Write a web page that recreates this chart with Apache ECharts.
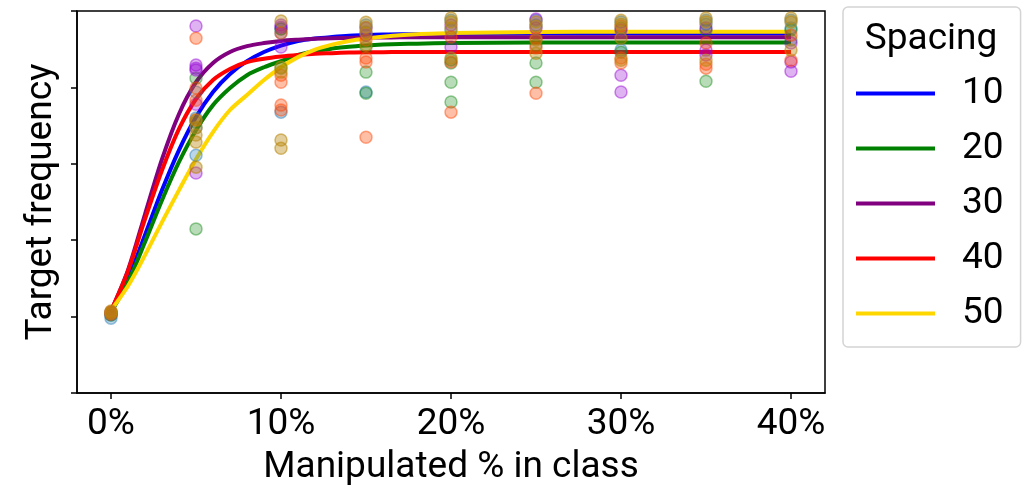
<!DOCTYPE html>
<html>
<head>
<meta charset="utf-8">
<script src="https://cdn.jsdelivr.net/npm/echarts@6/dist/echarts.min.js"></script>
<style>html,body{margin:0;padding:0;background:#fff;}#c{width:1030px;height:491px;}</style>
</head>
<body>
<div id="c"></div>
<script>
// ---- data ----
const spacingNames = ['10', '20', '30', '40', '50'];
const xTickValues = [0, 10, 20, 30, 40];
const yTickValues = [-0.25, 0, 0.25, 0.5, 0.75, 1.0];

// fitted curves
const curveX = [0, 1, 2, 3, 4, 5, 6, 7, 8, 9, 10, 11, 12, 13, 14, 15, 16, 17, 18, 20, 25, 30, 40];
const curve10 = [0.015, 0.123, 0.267, 0.414, 0.545, 0.653, 0.735, 0.794, 0.836, 0.866, 0.887, 0.902, 0.910, 0.915, 0.919, 0.921, 0.923, 0.924, 0.924, 0.925, 0.926, 0.926, 0.926];
const curve20 = [0.015, 0.113, 0.244, 0.381, 0.506, 0.610, 0.692, 0.748, 0.790, 0.816, 0.836, 0.856, 0.869, 0.877, 0.883, 0.887, 0.890, 0.892, 0.893, 0.895, 0.897, 0.897, 0.897];
const curve30 = [0.018, 0.152, 0.335, 0.515, 0.663, 0.767, 0.830, 0.866, 0.885, 0.895, 0.902, 0.906, 0.909, 0.911, 0.912, 0.913, 0.913, 0.914, 0.914, 0.914, 0.914, 0.914, 0.914];
const curve40 = [0.018, 0.149, 0.319, 0.479, 0.614, 0.712, 0.774, 0.810, 0.833, 0.844, 0.851, 0.856, 0.860, 0.862, 0.864, 0.865, 0.865, 0.866, 0.866, 0.866, 0.866, 0.866, 0.866];
const curve50 = [0.021, 0.100, 0.201, 0.309, 0.414, 0.515, 0.604, 0.676, 0.725, 0.774, 0.816, 0.849, 0.874, 0.890, 0.902, 0.910, 0.916, 0.921, 0.924, 0.928, 0.931, 0.932, 0.932];

// observed points [x %, value]
const points10 = [
  [0, -0.005], [0, 0.005],
  [5, 0.735], [5, 0.650], [5, 0.618], [5, 0.528],
  [10, 0.941], [10, 0.928], [10, 0.669],
  [15, 0.954], [15, 0.931], [15, 0.735],
  [20, 0.970], [20, 0.938],
  [25, 0.970], [25, 0.954],
  [30, 0.964], [30, 0.872],
  [35, 0.970], [35, 0.957],
  [40, 0.970], [40, 0.944]
];
const points20 = [
  [0, 0.005], [0, 0.012],
  [5, 0.780], [5, 0.636], [5, 0.287],
  [10, 0.941], [10, 0.813],
  [15, 0.882], [15, 0.800], [15, 0.731],
  [20, 0.840], [20, 0.830], [20, 0.767], [20, 0.702],
  [25, 0.889], [25, 0.830], [25, 0.767],
  [30, 0.944], [30, 0.865],
  [35, 0.938], [35, 0.770],
  [40, 0.938], [40, 0.905]
];
const points30 = [
  [0, 0.008], [0, 0.014],
  [5, 0.951], [5, 0.823], [5, 0.813], [5, 0.807], [5, 0.695], [5, 0.470],
  [10, 0.954], [10, 0.947], [10, 0.882],
  [15, 0.944], [15, 0.921],
  [20, 0.954], [20, 0.882],
  [25, 0.974], [25, 0.944],
  [30, 0.938], [30, 0.790], [30, 0.735],
  [35, 0.944], [35, 0.872], [35, 0.856],
  [40, 0.895], [40, 0.833], [40, 0.803]
];
const points40 = [
  [0, 0.010], [0, 0.016],
  [5, 0.911], [5, 0.748], [5, 0.708], [5, 0.643],
  [10, 0.928], [10, 0.790], [10, 0.767], [10, 0.692], [10, 0.676],
  [15, 0.905], [15, 0.846], [15, 0.833], [15, 0.587],
  [20, 0.915], [20, 0.833], [20, 0.669],
  [25, 0.911], [25, 0.879], [25, 0.731],
  [30, 0.951], [30, 0.846], [30, 0.830],
  [35, 0.895], [35, 0.826], [35, 0.813],
  [40, 0.921], [40, 0.839]
];
const points50 = [
  [0, 0.008], [0, 0.013], [0, 0.018],
  [5, 0.643], [5, 0.618], [5, 0.594], [5, 0.571], [5, 0.489],
  [10, 0.967], [10, 0.816], [10, 0.800], [10, 0.578], [10, 0.551],
  [15, 0.963], [15, 0.947], [15, 0.928], [15, 0.889],
  [20, 0.977], [20, 0.964], [20, 0.944], [20, 0.846],
  [25, 0.964], [25, 0.950], [25, 0.905], [25, 0.862],
  [30, 0.970], [30, 0.957], [30, 0.911], [30, 0.839],
  [35, 0.977], [35, 0.964], [35, 0.839],
  [40, 0.977], [40, 0.964], [40, 0.872]
];

// ---- styling ----
const lineColors = ['#0000ff', '#008000', '#800080', '#ff0000', '#ffd700'];
const pointFill = ['rgba(31,119,180,0.30)', 'rgba(0,128,0,0.28)', 'rgba(148,0,211,0.30)', 'rgba(255,69,0,0.35)', 'rgba(184,134,11,0.40)'];
const pointEdge = ['rgba(31,119,180,0.45)', 'rgba(0,128,0,0.40)', 'rgba(148,0,211,0.45)', 'rgba(255,69,0,0.45)', 'rgba(184,134,11,0.55)'];
const curves = [curve10, curve20, curve30, curve40, curve50];
const pointSets = [points10, points20, points30, points40, points50];
const FONT = 'Roboto, "DejaVu Sans", sans-serif';
const FS = 37;

const series = [];
curves.forEach((c, i) => {
  series.push({
    name: spacingNames[i], type: 'line', smooth: 0.3, showSymbol: false, symbol: 'none',
    data: curveX.map((x, k) => [x, c[k]]),
    lineStyle: { color: lineColors[i], width: 4 }, itemStyle: { color: lineColors[i] },
    z: 2, silent: true
  });
});
pointSets.forEach((p, i) => {
  series.push({
    name: 'pts' + spacingNames[i], type: 'scatter', symbolSize: 12, data: p,
    itemStyle: { color: pointFill[i], borderColor: pointEdge[i], borderWidth: 1.5, opacity: 1 },
    z: 3, silent: true
  });
});

const chart = echarts.init(document.getElementById('c'), null, { renderer: 'canvas' });
chart.setOption({
  animation: false,
  backgroundColor: '#fff',
  textStyle: { fontFamily: FONT },
  grid: { left: 77, right: 205, top: 11, bottom: 98, show: true, borderColor: '#000', borderWidth: 1.5, backgroundColor: 'transparent' },
  title: { text: 'Spacing', left: 926, top: 16, textAlign: 'center',
    textStyle: { fontFamily: FONT, fontSize: FS, fontWeight: 'normal', color: '#000' } },
  legend: {
    data: spacingNames, orient: 'vertical', left: 843, top: 7,
    padding: [68, 17, 15, 13], itemGap: 18, itemWidth: 79, itemHeight: 4, icon: 'rect',
    borderColor: '#d4d4d4', borderWidth: 1.5, borderRadius: 5,
    textStyle: { fontFamily: FONT, fontSize: FS, lineHeight: 37, color: '#000', padding: [0, 0, 0, 22] }
  },
  xAxis: {
    type: 'value', min: -2, max: 42,
    name: 'Manipulated % in class', nameLocation: 'middle', nameGap: 56,
    nameTextStyle: { fontFamily: FONT, fontSize: FS, color: '#000' },
    axisLine: { show: true, onZero: false, lineStyle: { color: '#000', width: 1.5 } },
    axisTick: { show: true, length: 6, customValues: xTickValues, lineStyle: { color: '#000', width: 1.5 } },
    axisLabel: { customValues: xTickValues, formatter: v => v + '%', fontFamily: FONT, fontSize: FS, color: '#000', margin: 13 },
    splitLine: { show: false }
  },
  yAxis: {
    type: 'value', min: -0.25, max: 1.0, interval: 0.25,
    name: 'Target frequency', nameLocation: 'middle', nameGap: 17,
    nameTextStyle: { fontFamily: FONT, fontSize: FS, color: '#000' },
    axisLine: { show: true, onZero: false, lineStyle: { color: '#000', width: 1.5 } },
    axisTick: { show: true, length: 6, customValues: yTickValues, lineStyle: { color: '#000', width: 1.5 } },
    axisLabel: { show: false },
    splitLine: { show: false }
  },
  series: series
});
</script>
</body>
</html>
